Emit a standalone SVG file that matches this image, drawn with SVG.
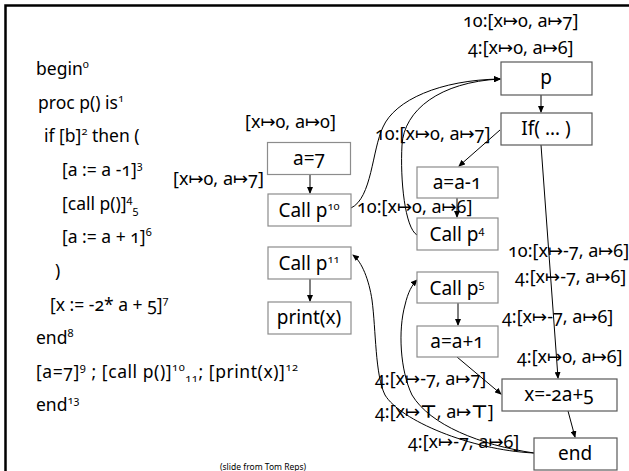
<svg xmlns="http://www.w3.org/2000/svg" width="629" height="471" viewBox="0 0 629 471">
<style>
text{font-family:"Noto Sans","Open Sans","DejaVu Sans",sans-serif;fill:#000;font-variant-numeric:oldstyle-nums}
.code{font-size:17.5px}
.lbl{font-size:18px}
.nt{font-size:19px;text-anchor:middle}
.sup{font-size:11px}
.top{font-family:"DejaVu Sans",sans-serif;font-weight:bold;fill:#000}
.box{fill:#fff;stroke:#8c8c8c;stroke-width:1.2}
.box2{fill:#fff;stroke:#595959;stroke-width:1.2}
.c{fill:none;stroke:#000;stroke-width:1}
.note{font-size:8.5px}
</style>
<defs>
<marker id="ah" markerWidth="7" markerHeight="6" refX="6" refY="3" orient="auto" markerUnits="userSpaceOnUse">
<path d="M0,0 L7,3 L0,6 Z" fill="#000"/>
</marker>
</defs>
<rect width="629" height="471" fill="#fff"/>
<path d="M5.5,471 V5.5 H629" fill="none" stroke="#000" stroke-width="2.5"/>

<g id="code">
<text class="code" x="36" y="75">begin<tspan class="sup" dy="-7">0</tspan></text>
<text class="code" x="38" y="109">proc p() is<tspan class="sup" dy="-7">1</tspan></text>
<text class="code" x="44" y="142">if [b]<tspan class="sup" dy="-7">2</tspan><tspan dy="7"> then (</tspan></text>
<text class="code" x="62" y="176">[a := a -1]<tspan class="sup" dy="-7">3</tspan></text>
<text class="code" x="62" y="210">[call p()]<tspan class="sup" dy="-7">4</tspan><tspan class="sup" dy="11">5</tspan></text>
<text class="code" x="62" y="243">[a := a + 1]<tspan class="sup" dy="-7">6</tspan></text>
<text class="code" x="55" y="277">)</text>
<text class="code" x="50" y="311">[x := -2* a + 5]<tspan class="sup" dy="-7">7</tspan></text>
<text class="code" x="36" y="344">end<tspan class="sup" dy="-7">8</tspan></text>
<text class="code" x="36" y="378" textLength="262">[a=7]<tspan class="sup" dy="-7">9</tspan><tspan dy="7"> ; [call p()]</tspan><tspan class="sup" dy="-7">10</tspan><tspan class="sup" dy="11">11</tspan><tspan dy="-4">; [print(x)]</tspan><tspan class="sup" dy="-7">12</tspan></text>
<text class="code" x="36" y="411">end<tspan class="sup" dy="-7">13</tspan></text>
</g>

<g id="connectors">
<path class="c" d="M310,174 V193" marker-end="url(#ah)"/>
<path class="c" d="M310,279 V301" marker-end="url(#ah)"/>
<path class="c" d="M541,95 V112" marker-end="url(#ah)"/>
<path class="c" d="M500,130 L459,166" marker-end="url(#ah)"/>
<path class="c" d="M457,198 V217" marker-end="url(#ah)"/>
<path class="c" d="M541,145 L558,378" marker-end="url(#ah)"/>
<path class="c" d="M458,303 V325" marker-end="url(#ah)"/>
<path class="c" d="M457,357 L501,394" marker-end="url(#ah)"/>
<path class="c" d="M568,411 L575,437" marker-end="url(#ah)"/>
<path class="c" d="M351,208 C372,198 372,150 383,127 C395,100 440,80 500,79" marker-end="url(#ah)"/>
<path class="c" d="M417,235 C405,228 400,180 402,145 C404,110 440,82 500,79" marker-end="url(#ah)"/>
<path class="c" d="M534,453 C470,450 400,420 385,395 C375,375 376,330 372,300 C369,280 362,262 353,255" marker-end="url(#ah)"/>
<path class="c" d="M534,453 C480,445 430,425 412,395 C400,370 398,330 405,305 C408,292 412,285 417,280" marker-end="url(#ah)"/>
</g>

<g id="n_a7"><rect class="box" x="267.5" y="142.5" width="83" height="32"/><text class="nt" x="309" y="165">a=7</text></g>
<g id="n_callp10"><rect class="box" x="268" y="194" width="83" height="32"/><text class="nt" x="309" y="217">Call p<tspan class="sup" font-size="12" dy="-7">10</tspan></text></g>
<g id="n_callp11"><rect class="box" x="268" y="247" width="83" height="32"/><text class="nt" x="309" y="270">Call p<tspan class="sup" font-size="12" dy="-7">11</tspan></text></g>
<g id="n_print"><rect class="box" x="268" y="302" width="83" height="32"/><text class="nt" x="309" y="324">print(x)</text></g>
<g id="n_p"><rect class="box2" x="501" y="62" width="91" height="33"/><text class="nt" x="546" y="84">p</text></g>
<g id="n_if"><rect class="box2" x="501" y="113" width="91" height="32"/><text class="nt" x="546" y="135">If( … )</text></g>
<g id="n_aam1"><rect class="box" x="417" y="167" width="81" height="31"/><text class="nt" x="457" y="189">a=a-1</text></g>
<g id="n_callp4"><rect class="box" x="417" y="218" width="81" height="32"/><text class="nt" x="457" y="241">Call p<tspan class="sup" font-size="12" dy="-7">4</tspan></text></g>
<g id="n_callp5"><rect class="box" x="417" y="272" width="81" height="31"/><text class="nt" x="457" y="295">Call p<tspan class="sup" font-size="12" dy="-7">5</tspan></text></g>
<g id="n_aap1"><rect class="box" x="417" y="326" width="81" height="31"/><text class="nt" x="457" y="348">a=a+1</text></g>
<g id="n_x"><rect class="box2" x="502" y="379" width="115" height="32"/><text class="nt" x="559" y="401">x=-2a+5</text></g>
<g id="n_end"><rect class="box2" x="534" y="438" width="83" height="32"/><text class="nt" x="575" y="460">end</text></g>

<g id="labels">
<text class="lbl" x="245" y="128">[x↦0, a↦0]</text>
<text class="lbl" x="173" y="185">[x↦0, a↦7]</text>
<text class="lbl" x="463" y="27">10:[x↦0, a↦7]</text>
<text class="lbl" x="468" y="54">4:[x↦0, a↦6]</text>
<text class="lbl" x="375" y="140">10:[x↦0, a↦7]</text>
<text class="lbl" x="357" y="213">10:[x↦0, a↦6]</text>
<text class="lbl" x="508" y="257">10:[x↦-7, a↦6]</text>
<text class="lbl" x="515" y="283">4:[x↦-7, a↦6]</text>
<text class="lbl" x="502" y="323">4:[x↦-7, a↦6]</text>
<text class="lbl" x="517" y="363">4:[x↦0, a↦6]</text>
<text class="lbl" x="375" y="385">4:[x↦-7, a↦7]</text>
<text class="lbl" x="375" y="418">4:[x↦<tspan class="top">⊤</tspan>, a↦<tspan class="top">⊤</tspan>]</text>
<text class="lbl" x="408" y="448">4:[x↦-7, a↦6]</text>
</g>
<text class="note" x="220" y="470">(slide from Tom Reps)</text>
</svg>
